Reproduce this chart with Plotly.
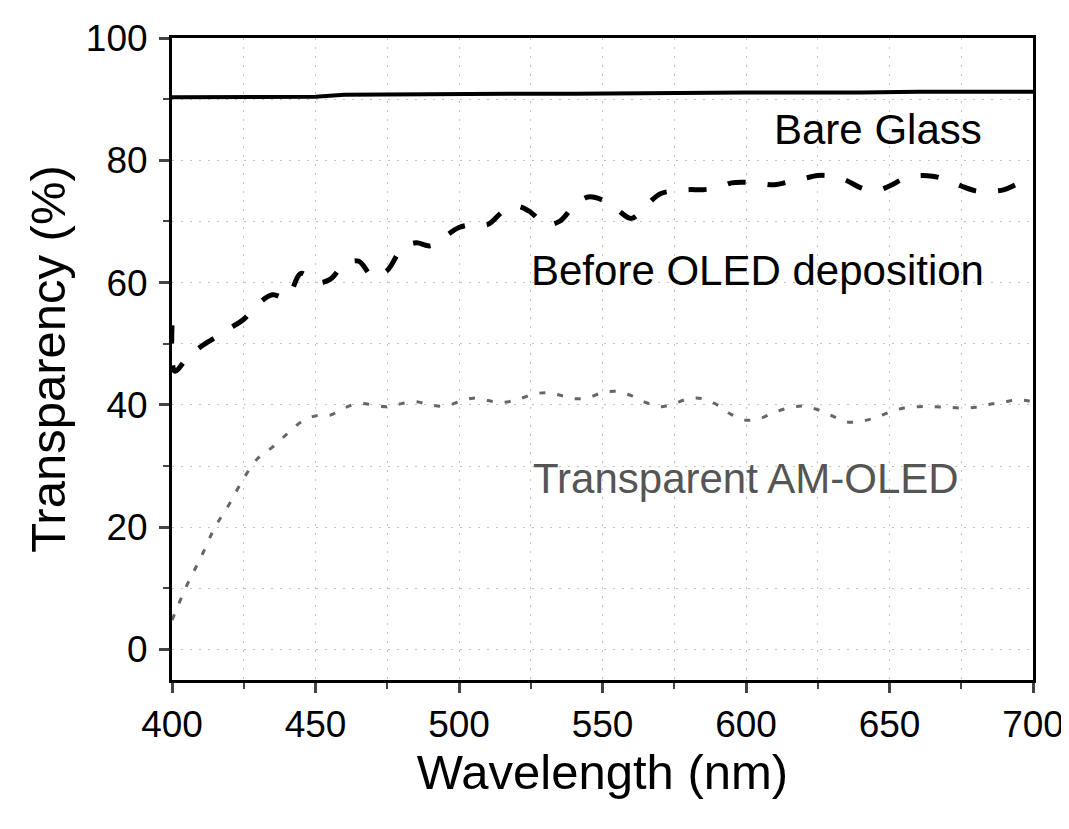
import plotly.graph_objects as go

# ---- data ----
glass_wl = [400, 420, 440, 450, 460, 480, 500, 520, 540, 560, 600, 640, 660, 700]
glass_T = [90.3, 90.3, 90.4, 90.4, 90.7, 90.8, 90.8, 90.9, 90.9, 91.0, 91.1, 91.1, 91.2, 91.2]

before_wl = [400, 401, 405, 410, 415, 420, 425, 430, 435, 440, 445, 450, 455, 460, 465, 470,
             475, 480, 485, 490, 495, 500, 505, 510, 515, 520, 525, 530, 535, 540, 545, 550,
             555, 560, 565, 570, 575, 580, 585, 590, 595, 600, 605, 610, 615, 620, 625, 630,
             635, 640, 645, 650, 655, 660, 665, 670, 675, 680, 685, 690, 695, 700]
before_T = [53, 45.5, 47.5, 49.5, 51, 52.5, 54, 56.5, 58, 57.5, 61.5, 60, 60.5, 63, 63.5, 61,
            62, 65.5, 66.5, 66, 67.5, 69, 69.5, 69.5, 71.5, 72.5, 71.5, 69.5, 70, 72.5, 74, 73.5,
            72, 70.5, 72.5, 74.5, 75, 75.2, 75.2, 75.5, 76.3, 76.4, 76.2, 76, 76.5, 77, 77.5, 77.4,
            76.7, 75.5, 75, 75.8, 77, 77.5, 77.4, 76.8, 75.8, 75, 74.9, 75.2, 76.2, 76.9]

oled_wl = [400, 405, 410, 415, 420, 425, 430, 435, 440, 445, 450, 455, 460, 465, 470, 475,
           480, 485, 490, 495, 500, 505, 510, 515, 520, 525, 530, 535, 540, 545, 550, 555,
           560, 565, 570, 575, 580, 585, 590, 595, 600, 605, 610, 615, 620, 625, 630, 635,
           640, 645, 650, 655, 660, 665, 670, 675, 680, 685, 690, 695, 700]
oled_T = [4.8, 10.3, 15, 20, 23.8, 28, 31.3, 33.1, 35.2, 37.2, 38.2, 38.3, 39.5, 40.2, 40, 39.7,
          40.2, 40.5, 40, 39.8, 40.5, 41.1, 40.7, 40.4, 40.8, 41.6, 42, 41.6, 41, 41.2, 42, 42.2,
          41.5, 40.4, 39.7, 40.2, 41, 41, 40, 38.4, 37.5, 37.8, 38.8, 39.5, 39.8, 39.2, 38.2, 37.2,
          37.3, 37.9, 38.8, 39.5, 39.7, 39.7, 39.6, 39.5, 39.6, 40.1, 40.5, 40.8, 40.5]

labels = ["Bare Glass", "Before OLED deposition", "Transparent AM-OLED"]
x_ticks = [400, 450, 500, 550, 600, 650, 700]
y_ticks = [0, 20, 40, 60, 80, 100]

FONT = "Arial, Liberation Sans, sans-serif"
GRID = "#c4c4c4"
GDASH = "2px,7px"

fig = go.Figure()
fig.add_trace(go.Scatter(x=glass_wl, y=glass_T, mode="lines",
                         line=dict(color="black", width=4), name=labels[0]))
fig.add_trace(go.Scatter(x=before_wl, y=before_T, mode="lines", line_shape="spline",
                         line=dict(color="black", width=5, dash="18px,22px"), name=labels[1]))
fig.add_trace(go.Scatter(x=oled_wl, y=oled_T, mode="lines", line_shape="spline",
                         line=dict(color="#666666", width=3, dash="6px,12px"), name=labels[2]))

# annotations
fig.add_annotation(x=646, y=85, text=labels[0], showarrow=False,
                   font=dict(family=FONT, size=42, color="black"))
fig.add_annotation(x=604, y=62, text=labels[1], showarrow=False,
                   font=dict(family=FONT, size=42, color="black"))
fig.add_annotation(x=600, y=28, text=labels[2], showarrow=False,
                   font=dict(family=FONT, size=42, color="#555555"))

grid_kw = dict(showgrid=True, gridcolor=GRID, gridwidth=1, griddash=GDASH, automargin=False)

fig.update_layout(
    width=1069, height=829,
    margin=dict(l=164, r=44, t=30, b=157, autoexpand=False),
    paper_bgcolor="white", plot_bgcolor="white",
    showlegend=False,
    font=dict(family=FONT, color="black"),
    xaxis=dict(range=[400, 700], tickvals=x_ticks, ticks="outside", ticklen=10, tickwidth=3,
               showline=True, linecolor="black", linewidth=3, mirror=True,
               tickfont=dict(size=37), zeroline=False,
               title=dict(text="Wavelength (nm)", font=dict(size=49), standoff=10),
               minor=dict(dtick=25, tick0=400, ticks="outside", ticklen=6, tickwidth=2,
                          showgrid=True, gridcolor=GRID, griddash=GDASH),
               **grid_kw),
    yaxis=dict(range=[-5, 100], tickvals=y_ticks, ticks="outside", ticklen=10, tickwidth=3,
               showline=True, linecolor="black", linewidth=3, mirror=True,
               tickfont=dict(size=37), zeroline=False, ticklabelstandoff=4,
               title=dict(text="Transparency (%)", font=dict(size=49), standoff=5),
               minor=dict(dtick=10, tick0=0, ticks="outside", ticklen=6, tickwidth=2,
                          showgrid=True, gridcolor=GRID, griddash=GDASH),
               **grid_kw),
    xaxis2=dict(overlaying="x", side="top", range=[400, 700], tickvals=x_ticks,
                ticks="inside", ticklen=10, tickwidth=3, showticklabels=False,
                showgrid=False, zeroline=False, automargin=False,
                minor=dict(dtick=25, tick0=400, ticks="inside", ticklen=6, tickwidth=2)),
    yaxis2=dict(overlaying="y", side="right", range=[-5, 100], tickvals=y_ticks,
                ticks="inside", ticklen=10, tickwidth=3, showticklabels=False,
                showgrid=False, zeroline=False, automargin=False,
                minor=dict(dtick=10, tick0=0, ticks="inside", ticklen=6, tickwidth=2)),
)

fig.write_html("out.html")
